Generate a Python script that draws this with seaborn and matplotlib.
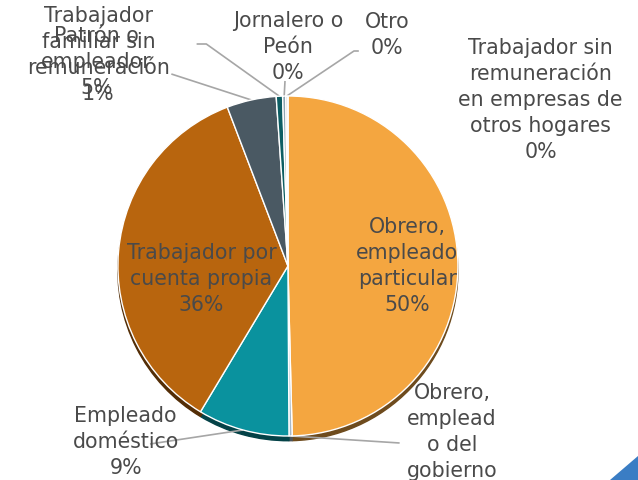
import numpy as np
import matplotlib
matplotlib.use("Agg")
import matplotlib.pyplot as plt
import seaborn as sns
from matplotlib.patches import Polygon

# ---------------- data ----------------
categories = [
    "Obrero,\nempleado\nparticular",
    "Obrero,\nemplead\no del\ngobierno",
    "Empleado\ndoméstico",
    "Trabajador por\ncuenta propia",
    "Patrón o\nempleador",
    "Trabajador\nfamiliar sin\nremuneración",
    "Jornalero o\nPeón",
    "Otro",
    "Trabajador sin\nremuneración\nen empresas de\notros hogares",
]
values = [49.6, 0.3, 8.7, 35.6, 4.7, 0.6, 0.3, 0.2, 0.0]
colors = ["#F4A640", "#A9B8C6", "#0A929E", "#B8650E", "#4A5963",
          "#0D5E63", "#8FA6B3", "#D9D9D9", "#F2C48F"]

# ---------------- layout ----------------
W, H = 638, 481
K = 175.0 / 170.0          # vertical squash of the pie (slight perspective)


def P(px, py):
    """pixel (from top-left) -> data coordinates"""
    return px, (H - py) * K


sns.set_theme(style="white")
plt.rcParams["font.family"] = ["DejaVu Sans"]

fig = plt.figure(figsize=(W / 100, H / 100), dpi=100)
ax = fig.add_axes([0, 0, 1, 1])
ax.set_xlim(0, W)
ax.set_ylim(0, H * K)
ax.set_aspect("auto")
ax.axis("off")

cx, cy = P(287, 267)
R = 175
wedges, _ = ax.pie(values, colors=colors, startangle=90, counterclock=False,
                   center=(cx, cy), radius=R, normalize=True,
                   wedgeprops=dict(edgecolor="white", linewidth=1.0),
                   shadow=dict(ox=0, oy=-3.5, shade=0.55, alpha=1.0))
for w in wedges:
    w.set_zorder(3)
ax.set_xlim(0, W)
ax.set_ylim(0, H * K)

text_color = "#4A4A4A"
line_color = "#A6A6A6"
fs = 14.8
labels = [f"{c}\n{v:.0f}%" for c, v in zip(categories, values)]

# label centres in pixels and leader-line start points (None = no line)
label_pos = [(410, 266), (456, 445), (120, 442), (198, 279), (90, 62),
             (92, 55), (287, 47), (389, 35), (547, 100)]
leader = [None, [(402, 444)], [(145, 445)], None, [(167, 75)],
          [(193, 45), (203, 45)], [(284, 82)], [(360, 52), (355, 52)], None]


def edge_point(w):
    th = np.deg2rad((w.theta1 + w.theta2) / 2)
    return cx + R * np.cos(th), cy + R * np.sin(th)


for i, w in enumerate(wedges):
    x, y = P(*label_pos[i])
    ax.text(x, y, labels[i], ha="center", va="center", fontsize=fs,
            color=text_color, linespacing=1.36, zorder=5)
    if leader[i] is not None:
        pts = [P(*p) for p in leader[i]] + [edge_point(w)]
        xs, ys = zip(*pts)
        ax.plot(xs, ys, color=line_color, lw=1.2, zorder=2,
                solid_capstyle="butt")

# decorative blue corner triangle
tri = Polygon([[610 / W, 0], [1, 0], [1, (H - 457) / H]], closed=True,
              transform=fig.transFigure, facecolor="#3A7DC4",
              edgecolor="none", zorder=10)
fig.patches.append(tri)

fig.savefig("out.png", dpi=100)
